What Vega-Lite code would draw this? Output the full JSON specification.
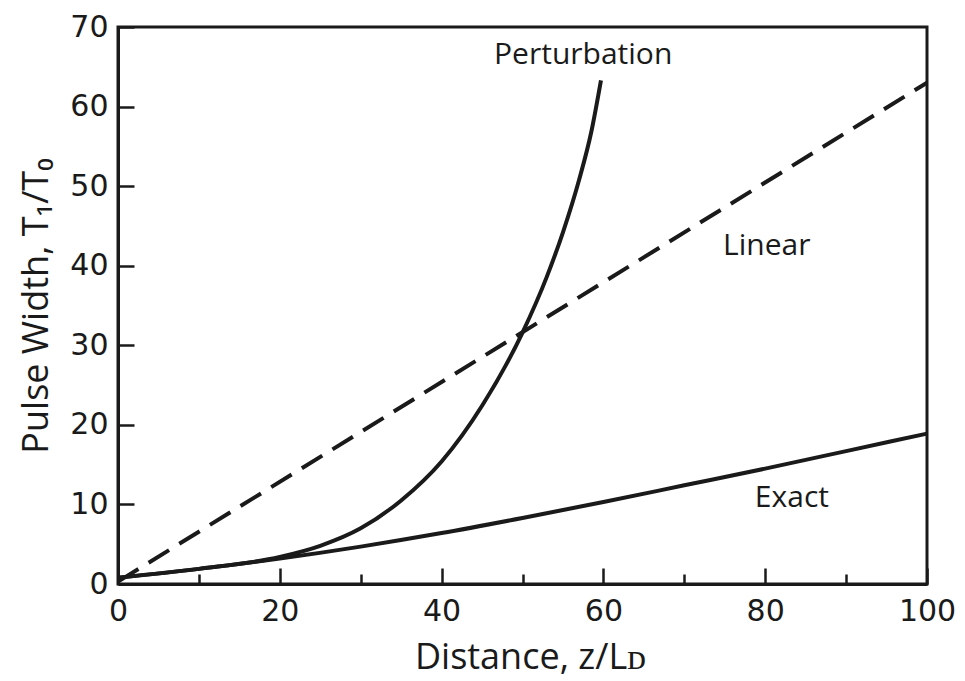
{
  "$schema": "https://vega.github.io/schema/vega-lite/v6.json",
  "width": 809,
  "height": 557,
  "autosize": {"type": "none"},
  "padding": {"left": 118, "top": 27, "right": 38, "bottom": 97},
  "background": "white",
  "config": {
    "view": {"stroke": "#1a1a1a", "strokeWidth": 3},
    "axis": {
      "grid": false,
      "domainColor": "#1a1a1a",
      "domainWidth": 3,
      "tickColor": "#1a1a1a",
      "tickWidth": 2.5,
      "labelFont": "DejaVu Sans",
      "labelFontSize": 30,
      "labelColor": "#1a1a1a",
      "titleFont": "Open Sans",
      "titleFontSize": 36,
      "titleFontWeight": "normal",
      "titleColor": "#1a1a1a"
    }
  },
  "datasets": {
    "solid": [
      {"series": "Exact", "z": 0, "w": 0.8},
      {"series": "Exact", "z": 10, "w": 1.9},
      {"series": "Exact", "z": 20, "w": 3.2},
      {"series": "Exact", "z": 30, "w": 4.7},
      {"series": "Exact", "z": 40, "w": 6.4},
      {"series": "Exact", "z": 50, "w": 8.3},
      {"series": "Exact", "z": 60, "w": 10.3},
      {"series": "Exact", "z": 70, "w": 12.4},
      {"series": "Exact", "z": 80, "w": 14.5},
      {"series": "Exact", "z": 90, "w": 16.7},
      {"series": "Exact", "z": 100, "w": 18.9},
      {"series": "Perturbation", "z": 0, "w": 0.8},
      {"series": "Perturbation", "z": 10, "w": 1.9},
      {"series": "Perturbation", "z": 20, "w": 3.4},
      {"series": "Perturbation", "z": 25, "w": 4.8},
      {"series": "Perturbation", "z": 30, "w": 7.0},
      {"series": "Perturbation", "z": 35, "w": 10.5},
      {"series": "Perturbation", "z": 40, "w": 15.4},
      {"series": "Perturbation", "z": 45, "w": 22.4},
      {"series": "Perturbation", "z": 50, "w": 31.6},
      {"series": "Perturbation", "z": 53, "w": 38.6},
      {"series": "Perturbation", "z": 55, "w": 44.2},
      {"series": "Perturbation", "z": 57, "w": 50.8},
      {"series": "Perturbation", "z": 58.5, "w": 56.8},
      {"series": "Perturbation", "z": 59.7, "w": 63.3}
    ],
    "linear": [
      {"series": "Linear", "z": 0, "w": 0.3},
      {"series": "Linear", "z": 100, "w": 63}
    ],
    "labels": [
      {"label": "Perturbation", "z": 57.5, "w": 66.5},
      {"label": "Linear", "z": 80.2, "w": 42.5},
      {"label": "Exact", "z": 83.3, "w": 10.8}
    ]
  },
  "layer": [
    {
      "data": {"name": "solid"},
      "mark": {"type": "line", "color": "#1a1a1a", "strokeWidth": 4, "interpolate": "monotone"},
      "encoding": {
        "x": {
          "field": "z", "type": "quantitative",
          "scale": {"domain": [0, 100], "nice": false, "zero": false},
          "axis": {
            "title": "Distance, z/Lᴅ",
            "values": [0, 10, 20, 30, 40, 50, 60, 70, 80, 90, 100],
            "labelExpr": "datum.value % 20 === 0 ? datum.label : ''",
            "tickSize": {"condition": {"test": "datum.value % 20 === 0", "value": -16}, "value": -10},
            "labelPadding": 28,
            "labelFlush": false,
            "titleX": 412,
            "titleY": 84,
            "titleBaseline": "alphabetic"
          }
        },
        "y": {
          "field": "w", "type": "quantitative",
          "scale": {"domain": [0, 70], "nice": false, "zero": false},
          "axis": {
            "title": "Pulse Width, T₁/T₀",
            "values": [0, 5, 10, 15, 20, 25, 30, 35, 40, 45, 50, 55, 60, 65, 70],
            "labelExpr": "datum.value % 10 === 0 ? datum.label : ''",
            "tickSize": {"condition": {"test": "datum.value % 10 === 0", "value": -16}, "value": -10},
            "labelPadding": 26,
            "labelFlush": false,
            "titleX": -71,
            "titleBaseline": "alphabetic"
          }
        },
        "detail": {"field": "series", "type": "nominal"}
      }
    },
    {
      "data": {"name": "linear"},
      "mark": {"type": "line", "color": "#1a1a1a", "strokeWidth": 4, "strokeDash": [24, 12]},
      "encoding": {
        "x": {"field": "z", "type": "quantitative"},
        "y": {"field": "w", "type": "quantitative"}
      }
    },
    {
      "data": {"name": "labels"},
      "mark": {"type": "text", "font": "Open Sans", "fontSize": 30, "color": "#1a1a1a", "align": "center", "baseline": "middle"},
      "encoding": {
        "x": {"field": "z", "type": "quantitative"},
        "y": {"field": "w", "type": "quantitative"},
        "text": {"field": "label", "type": "nominal"}
      }
    }
  ]
}
